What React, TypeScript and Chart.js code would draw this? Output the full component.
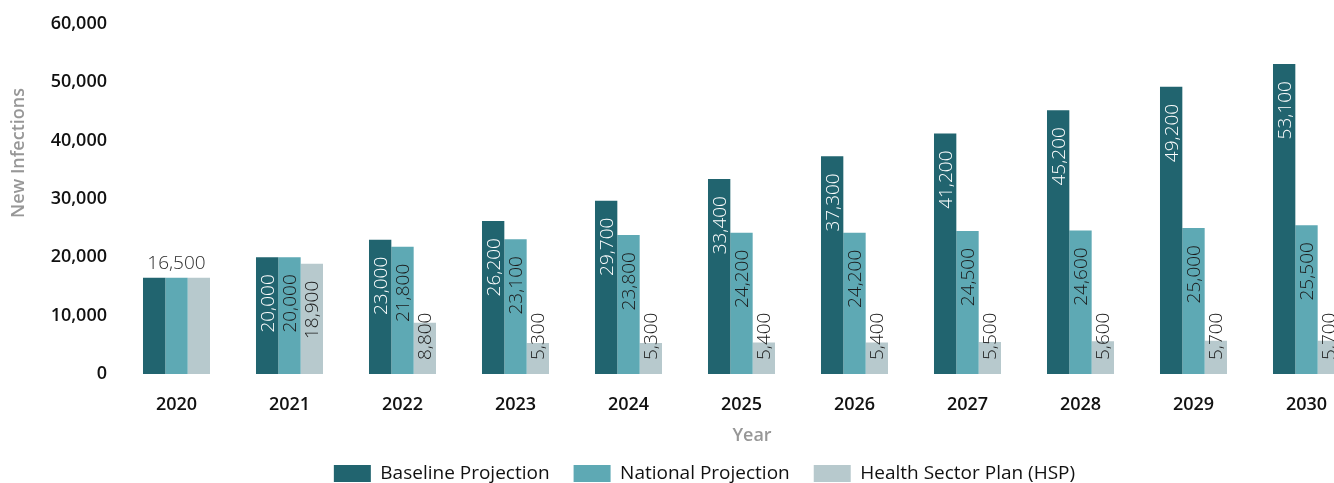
import React, { useEffect, useRef } from "react";
import { Chart, registerables } from "chart.js";

Chart.register(...registerables);

const years = ["2020", "2021", "2022", "2023", "2024", "2025", "2026", "2027", "2028", "2029", "2030"];
const baseline = [16500, 20000, 23000, 26200, 29700, 33400, 37300, 41200, 45200, 49200, 53100];
const national = [16500, 20000, 21800, 23100, 23800, 24200, 24200, 24500, 24600, 25000, 25500];
const hsp = [16500, 18900, 8800, 5300, 5300, 5400, 5400, 5500, 5600, 5700, 5700];
const seriesNames = ["Baseline Projection", "National Projection", "Health Sector Plan (HSP)"];
const seriesColors = ["#21646f", "#5ea9b4", "#b7c9cd"];
const valueTextColors = ["#ffffff", "#1a1a1a", "#1a1a1a"];
const yMax = 60000;
const yStep = 10000;
const yTitle = "New Infections";
const xTitle = "Year";

const FONT = "'Open Sans', 'DejaVu Sans', sans-serif";
const fmt = (v: number) => v.toLocaleString("en-US");

const valueLabelPlugin = {
  id: "valueLabels",
  afterDatasetsDraw(chart: any) {
    const ctx = chart.ctx;
    const base = chart.scales.y.getPixelForValue(0);
    ctx.save();
    ctx.font = `300 19px ${FONT}`;
    chart.data.datasets.forEach((ds: any, di: number) => {
      const meta = chart.getDatasetMeta(di);
      meta.data.forEach((bar: any, i: number) => {
        const v = ds.data[i];
        const text = fmt(v);
        if (i === 0) {
          if (di === 1) {
            ctx.fillStyle = "#2a2a2a";
            ctx.textAlign = "center";
            ctx.textBaseline = "alphabetic";
            ctx.fillText(text, bar.x, bar.y - 9);
          }
          return;
        }
        const w = ctx.measureText(text).width;
        const h = base - bar.y;
        ctx.save();
        ctx.fillStyle = valueTextColors[di];
        ctx.textBaseline = "middle";
        if (h < w + 32) {
          ctx.translate(bar.x + 1, base - 14);
          ctx.rotate(-Math.PI / 2);
          ctx.textAlign = "left";
        } else {
          ctx.translate(bar.x + 1, bar.y + 17);
          ctx.rotate(-Math.PI / 2);
          ctx.textAlign = "right";
        }
        ctx.fillText(text, 0, 0);
        ctx.restore();
      });
    });
    ctx.restore();
  },
  afterDraw(chart: any) {
    const ctx = chart.ctx;
    ctx.save();
    ctx.fillStyle = "#979797";
    ctx.font = `600 18px ${FONT}`;
    ctx.textAlign = "center";
    ctx.textBaseline = "middle";
    ctx.fillText(xTitle, 752, 436);
    ctx.translate(19, 153);
    ctx.rotate(-Math.PI / 2);
    ctx.fillText(yTitle, 0, 0);
    ctx.restore();
  },
};

export default function App() {
  const ref = useRef<HTMLCanvasElement | null>(null);
  useEffect(() => {
    if (!ref.current) return;
    const seriesData = [baseline, national, hsp];
    const chart = new Chart(ref.current, {
      type: "bar",
      data: {
        labels: years,
        datasets: seriesData.map((d, i) => ({
          label: seriesNames[i],
          data: d,
          backgroundColor: seriesColors[i],
          borderWidth: 0,
          categoryPercentage: 0.593,
          barPercentage: 1,
        })),
      },
      options: {
        responsive: false,
        animation: false,
        layout: { padding: { left: 46, right: 53, top: 22, bottom: 0 } },
        plugins: {
          tooltip: { enabled: false },
          legend: {
            position: "bottom",
            labels: {
              boxWidth: 37,
              boxHeight: 17,
              padding: 24,
              color: "#111111",
              font: { family: FONT, size: 19, weight: "500" as any },
            },
          },
        },
        scales: {
          x: {
            grid: { display: false, drawTicks: false },
            border: { display: false },
            ticks: {
              color: "#111111",
              padding: 20,
              font: { family: FONT, size: 18, weight: "600" as any },
            },
            afterFit: (s: any) => {
              s.height = 66;
            },
          },
          y: {
            min: 0,
            max: yMax,
            grid: { display: false, drawTicks: false },
            border: { display: false },
            ticks: {
              stepSize: yStep,
              color: "#111111",
              padding: 13,
              font: { family: FONT, size: 18, weight: "600" as any },
              callback: (v: any) => fmt(Number(v)),
            },
            afterFit: (s: any) => {
              s.width = 74;
            },
          },
        },
      },
      plugins: [valueLabelPlugin],
    });
    return () => chart.destroy();
  }, []);
  return (
    <div style={{ position: "absolute", left: 0, top: 0, width: 1334, height: 483, overflow: "hidden", background: "#fff" }}>
      <canvas ref={ref} width={1416} height={493} style={{ display: "block", width: 1416, height: 493 }} />
    </div>
  );
}
